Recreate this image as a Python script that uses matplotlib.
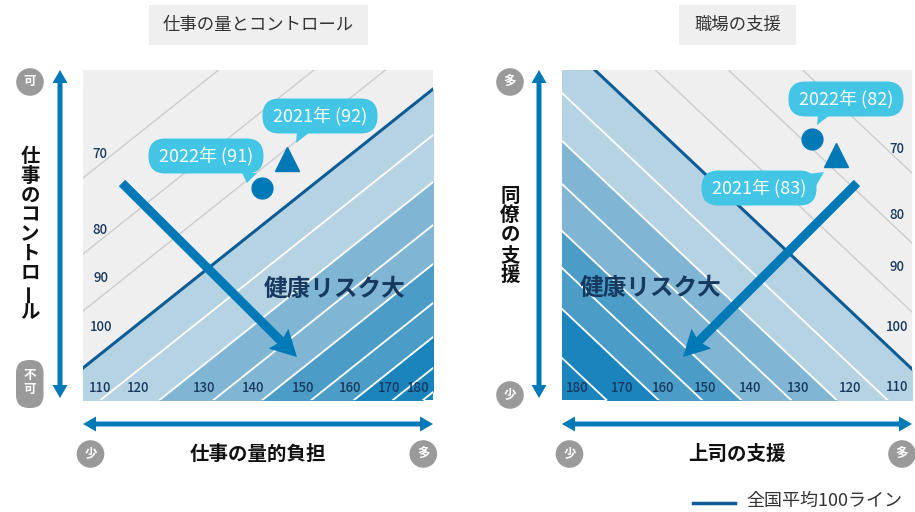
import numpy as np
import matplotlib
matplotlib.use('Agg')
import matplotlib.pyplot as plt
from matplotlib.patches import FancyArrow, FancyBboxPatch, Circle, Rectangle, Polygon

plt.rcParams['font.family'] = ['Noto Sans CJK JP', 'DejaVu Sans']

# ---- データ（判定図の座標は 1 単位 = 1 px 相当） ----
# 仕事の量とコントロール：健康リスク線 y = 切片 + 傾き * x
left_levels = [70, 80, 90, 100, 110, 120, 130, 140, 150, 160, 170, 180]
left_icpt = [222, 146, 89, 32, -14, -61, -104, -143, -182, -216, -247, -271]
left_slope = 0.797
left_lab_x = [17, 17, 18, 18, 17, 55, 121, 170, 220, 267, 306, 335]
left_lab_y = [246, 170, 122, 73, 12, 12, 12, 12, 12, 12, 12, 12]

# 職場の支援
right_levels = [70, 80, 90, 100, 110, 120, 130, 140, 150, 160, 170]
right_icpt = [557, 487, 418, 361, 307, 259, 216, 169, 132, 91, 42]
right_slope = -0.943
right_lab_txt = [70, 80, 90, 100, 110, 120, 130, 140, 150, 160, 170, 180]
right_lab_x = [335, 335, 335, 335, 335, 288, 236, 188, 143, 101, 60, 15]
right_lab_y = [251, 185, 133, 73, 13, 12, 12, 12, 12, 12, 12, 12]

# 年度ごとの位置
left_2021 = (204, 241)    # 2021年 (92)
left_2022 = (179, 212)    # 2022年 (91)
right_2021 = (274, 245)   # 2021年 (83)
right_2022 = (250, 261)   # 2022年 (82)

left_trend = ((39, 217), (214, 43))
right_trend = ((295, 217), (121, 43))

# ---- 色 ----
BG = '#efefef'
GRID = '#cdcdcd'
AVG = '#0e5c96'
BLUE = '#0079b6'
BUBBLE = '#43c5e6'
NAVY = '#17395f'
GRAYC = '#9a9a9a'
band_color = {110: '#b5d3e3', 120: '#b5d3e3', 130: '#80b6d3', 140: '#80b6d3',
              150: '#4b9dc7', 160: '#4b9dc7', 170: '#1b84bd', 180: '#1b84bd'}

fig = plt.figure(figsize=(9.15, 5.12), dpi=100)


def draw_panel(ax, levels, icpt, slope):
    ax.set_xlim(0, 350)
    ax.set_ylim(0, 330)
    ax.set_facecolor(BG)
    ax.axis('off')
    ax.add_patch(Rectangle((0, 0), 350, 330, fc=BG, ec='none', zorder=0))
    xs = np.array([-20, 380])
    i100 = levels.index(100)
    for i in range(i100 + 1, len(levels)):
        ax.fill_between(xs, icpt[i - 1] + slope * xs, icpt[i] + slope * xs,
                        color=band_color[levels[i]], lw=0, zorder=1)
    last = levels[-1] + 10
    ax.fill_between(xs, icpt[-1] + slope * xs, -2000,
                    color=band_color[min(last, 180)], lw=0, zorder=1)
    for lev, b in zip(levels, icpt):
        if lev < 100:
            ax.plot(xs, b + slope * xs, color=GRID, lw=1, zorder=2)
        elif lev > 100:
            ax.plot(xs, b + slope * xs, color='white', lw=1.3, zorder=2)
    b = icpt[i100]
    ax.plot(xs, b + slope * xs, color=AVG, lw=2.2, zorder=3)


def bubble(ax, cx, cy, text, tail):
    w, h = 115, 35
    ax.add_patch(FancyBboxPatch((cx - w / 2, cy - h / 2), w, h,
                                boxstyle='round,pad=0,rounding_size=17',
                                fc=BUBBLE, ec='none', zorder=6))
    ax.add_patch(Polygon(tail, closed=True, fc=BUBBLE, ec='none', zorder=6))
    ax.text(cx, cy, text, ha='center', va='center', color='white',
            fontsize=13, zorder=7)


def trend(ax, p0, p1):
    ax.add_patch(FancyArrow(p0[0], p0[1], p1[0] - p0[0], p1[1] - p0[1],
                            width=9, head_width=28, head_length=26,
                            length_includes_head=True, overhang=0.1,
                            fc=BLUE, ec='none', zorder=5))


# 左パネル
axl = fig.add_axes([83 / 915, 112 / 512, 350 / 915, 330 / 512])
draw_panel(axl, left_levels, left_icpt, left_slope)
for t, x, y in zip(left_levels, left_lab_x, left_lab_y):
    axl.text(x, y, str(t), ha='center', va='center', fontsize=9.5,
             fontweight='medium', color=NAVY, zorder=4)
axl.text(252, 111, '健康リスク大', ha='center', va='center', fontsize=17,
         fontweight='bold', color=NAVY, zorder=4)
trend(axl, *left_trend)
axl.plot(*left_2022, 'o', ms=15, color=BLUE, zorder=6)
axl.plot(*left_2021, '^', ms=17, color=BLUE, zorder=6)
bubble(axl, left_2021[0] + 33, left_2021[1] + 43, '2021年 (92)',
       [(left_2021[0] + 10, left_2021[1] + 27), (left_2021[0] + 23, left_2021[1] + 27),
        (left_2021[0] + 9, left_2021[1] + 16)])
bubble(axl, left_2022[0] - 56, left_2022[1] + 32, '2022年 (91)',
       [(left_2022[0] - 20, left_2022[1] + 15), (left_2022[0] - 5, left_2022[1] + 15),
        (left_2022[0] - 15, left_2022[1] + 5)])

# 右パネル
axr = fig.add_axes([562 / 915, 112 / 512, 350 / 915, 330 / 512])
draw_panel(axr, right_levels, right_icpt, right_slope)
for t, x, y in zip(right_lab_txt, right_lab_x, right_lab_y):
    axr.text(x, y, str(t), ha='center', va='center', fontsize=9.5,
             fontweight='medium', color=NAVY, zorder=4)
axr.text(89, 112, '健康リスク大', ha='center', va='center', fontsize=17,
         fontweight='bold', color=NAVY, zorder=4)
trend(axr, *right_trend)
axr.plot(*right_2022, 'o', ms=15, color=BLUE, zorder=6)
axr.plot(*right_2021, '^', ms=17, color=BLUE, zorder=6)
bubble(axr, right_2022[0] + 34, right_2022[1] + 40, '2022年 (82)',
       [(right_2022[0] + 6, right_2022[1] + 24), (right_2022[0] + 18, right_2022[1] + 24),
        (right_2022[0] + 5, right_2022[1] + 14)])
bubble(axr, right_2021[0] - 77, right_2021[1] - 33, '2021年 (83)',
       [(right_2021[0] - 28, right_2021[1] - 19), (right_2021[0] - 20, right_2021[1] - 31),
        (right_2021[0] - 12, right_2021[1] - 17)])

# ---- 周辺の注記（ピクセル座標） ----
ov = fig.add_axes([0, 0, 1, 1])
ov.set_xlim(0, 915)
ov.set_ylim(512, 0)
ov.axis('off')


def dbl_arrow(x0, y0, x1, y1):
    mx, my = (x0 + x1) / 2, (y0 + y1) / 2
    for xe, ye in [(x0, y0), (x1, y1)]:
        ov.add_patch(FancyArrow(mx, my, xe - mx, ye - my, width=5, head_width=15,
                                head_length=13, length_includes_head=True,
                                fc=BLUE, ec='none'))


def gcircle(x, y, s):
    ov.add_patch(Circle((x, y), 13.8, fc=GRAYC, ec='none'))
    ov.text(x, y, s, ha='center', va='center', color='white', fontsize=9,
            fontweight='bold')


def vlabel(x, y0, step, s):
    for i, ch in enumerate(s):
        ov.text(x, y0 + i * step, ch, rotation=90 if ch == 'ー' else 0,
                ha='center', va='center', fontsize=14, fontweight='bold', color='#111111')


# タイトル
ov.add_patch(Rectangle((149, 5), 219, 40, fc=BG, ec='none'))
ov.text(258.5, 25, '仕事の量とコントロール', ha='center', va='center', fontsize=12.5, color='#333333')
ov.add_patch(Rectangle((679, 5), 117, 40, fc=BG, ec='none'))
ov.text(737.5, 25, '職場の支援', ha='center', va='center', fontsize=12.5, color='#333333')

# 左の軸
dbl_arrow(60, 70, 60, 398)
dbl_arrow(83, 424, 433, 424)
gcircle(30, 82, '可')
ov.add_patch(FancyBboxPatch((16, 360), 27.5, 48, boxstyle='round,pad=0,rounding_size=13',
                            fc=GRAYC, ec='none'))
ov.text(29.7, 375, '不', ha='center', va='center', color='white', fontsize=9, fontweight='bold')
ov.text(29.7, 390, '可', ha='center', va='center', color='white', fontsize=9, fontweight='bold')
vlabel(30, 157, 19.4, '仕事のコントロール')
gcircle(90.5, 454, '少')
gcircle(423.3, 454, '多')
ov.text(258, 454, '仕事の量的負担', ha='center', va='center', fontsize=14,
        fontweight='bold', color='#111111')

# 右の軸
dbl_arrow(539, 70, 539, 398)
dbl_arrow(562, 424, 912, 424)
gcircle(510, 82, '多')
gcircle(510, 395, '少')
vlabel(510, 196, 19.8, '同僚の支援')
gcircle(569.5, 454, '少')
gcircle(902, 454, '多')
ov.text(736.5, 454, '上司の支援', ha='center', va='center', fontsize=14,
        fontweight='bold', color='#111111')

# 凡例
ov.plot([693, 735], [503, 503], color=AVG, lw=2.5)
ov.text(746, 501, '全国平均100ライン', ha='left', va='center', fontsize=13, color='#333333')

fig.savefig('out.png', dpi=100)
